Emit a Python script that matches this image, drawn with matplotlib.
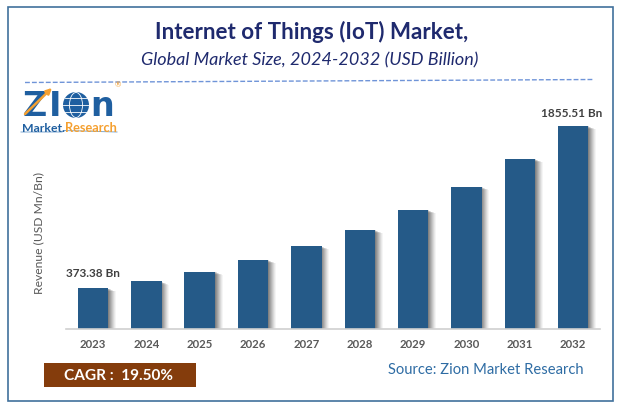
import numpy as np
import matplotlib
matplotlib.use("Agg")
import matplotlib.pyplot as plt
from matplotlib.patches import Rectangle, Circle, Ellipse

years = ["2023", "2024", "2025", "2026", "2027", "2028", "2029", "2030", "2031", "2032"]
revenue = [373.38, 436, 525, 630, 758, 905, 1088, 1302, 1554, 1855.51]
first_label = "373.38 Bn"
last_label = "1855.51 Bn"

W, H = 621, 410
plt.rcParams['font.family'] = ['Lato', 'DejaVu Sans']


def main():
    fig = plt.figure(figsize=(W / 100, H / 100), dpi=100, facecolor="white")

    # overlay axes in pixel coordinates, y going down like the picture
    bg = fig.add_axes([0, 0, 1, 1])
    bg.set_xlim(0, W)
    bg.set_ylim(H, 0)
    bg.axis("off")

    draw_frame(bg)
    draw_logo(bg)
    draw_chart(fig)

    fig.savefig("out.png", dpi=100)
    plt.close(fig)


def draw_frame(bg):
    bg.add_patch(Rectangle((7.5, 7.5), 605.5, 394.5, fill=False, ec="#41719c", lw=1.2))
    bg.text(312, 32, "Internet of Things (IoT) Market,", ha="center", va="center",
            fontsize=16.1, fontweight="bold", color="#1f2a6e")
    bg.text(310, 60, "Global Market Size, 2024-2032 (USD Billion)", ha="center", va="center",
            fontsize=13, fontstyle="italic", color="#1f2a6e")
    bg.plot([25, 594], [83.5, 80.5], color="#6f94d8", lw=1, ls=(0, (3.5, 1.5)))

    bg.add_patch(Rectangle((44, 364), 152, 24, fc="#843c0c", ec="none"))
    bg.text(119, 376.5, "CAGR :  19.50%", ha="center", va="center",
            fontsize=11.1, fontweight="bold", color="white")
    bg.text(485.5, 370, "Source: Zion Market Research", ha="center", va="center",
            fontsize=10.6, color="#2e6ca4")
    bg.text(39, 233, "Revenue (USD Mn/Bn)", rotation=90, ha="center", va="center",
            fontsize=8.7, color="#595959")


def draw_logo(bg):
    blue = "#1f5fa0"
    orange = "#f5a030"
    logo_font = "DejaVu Sans"
    bg.text(22, 116, "Z", fontsize=24, fontweight="bold", family=logo_font, color=blue, va="baseline", ha="left")
    bg.text(49, 116, "I", fontsize=24, fontweight="bold", family=logo_font, color=blue, va="baseline", ha="left")
    bg.annotate("", xy=(54, 87), xytext=(23, 117),
                arrowprops=dict(arrowstyle="-|>", color=orange, lw=1.8, mutation_scale=8))
    # globe
    bg.add_patch(Circle((76, 106), 13, fc=blue, ec="none"))
    bg.add_patch(Ellipse((76, 106), 13, 25, fill=False, ec="white", lw=0.6))
    bg.plot([63, 89], [106, 106], color="white", lw=0.6)
    bg.plot([65, 87], [99, 99], color="white", lw=0.6)
    bg.plot([65, 87], [113, 113], color="white", lw=0.6)
    bg.text(90.5, 116, "n", fontsize=24, fontweight="bold", family=logo_font, color=blue, va="baseline", ha="left")
    bg.text(22, 128, "Market.", fontsize=8.8, fontweight="bold", color=blue, va="center", ha="left")
    bg.text(65, 128.5, "Research", fontsize=9.2, fontweight="bold", color=orange, va="center", ha="left")
    bg.plot([21, 62, 64, 117], [133, 133, 131.5, 133], color="#7fa8d0", lw=0.7)
    bg.text(118, 85, "®", fontsize=5.5, color=orange, va="center", ha="center")


def draw_chart(fig):
    # axes rectangle from pixels, the baseline lands on y=329 in the saved picture
    left, right, top, bottom = 66, 600, 101, 330
    ax = fig.add_axes([left / W, 1 - bottom / H, (right - left) / W, (bottom - top) / H])
    ax.patch.set_alpha(0)

    x = np.arange(len(years))
    step = 53.35  # px per category
    ax.set_xlim((left - 93) / step, (right - 93) / step)
    ax.set_ylim(0, 229 / 0.1094)

    # soft shadow on the right and top right of the bars
    for off, alpha in [(8, 0.05), (7, 0.07), (6, 0.09), (5, 0.11), (4, 0.13), (3, 0.15), (2, 0.17), (1, 0.2)]:
        tops = [v - off * 0.4 / 0.1094 for v in revenue]
        ax.bar(x + off / step, tops, width=30 / step, color="#404040", alpha=alpha, lw=0, zorder=1)
    ax.bar(x, revenue, width=30.5 / step, color="#255a88", lw=0, zorder=3)

    for s in ["top", "right", "left"]:
        ax.spines[s].set_visible(False)
    ax.spines["bottom"].set_color("#d0d0d0")
    ax.spines["bottom"].set_linewidth(1.2)
    ax.spines["bottom"].set_zorder(4)
    ax.set_yticks([])
    ax.set_xticks(x)
    ax.set_xticklabels(years, fontsize=8.2, fontweight="bold", color="#595959")
    ax.tick_params(axis="x", length=0, pad=6.5)

    ax.annotate(first_label, (x[0], revenue[0]), xytext=(0, 7), textcoords="offset points",
                ha="center", va="bottom", fontsize=8.5, fontweight="bold", color="#404040")
    ax.annotate(last_label, (x[-1], revenue[-1]), xytext=(-1, 6), textcoords="offset points",
                ha="center", va="bottom", fontsize=8.5, fontweight="bold", color="#404040")


if __name__ == "__main__":
    main()
